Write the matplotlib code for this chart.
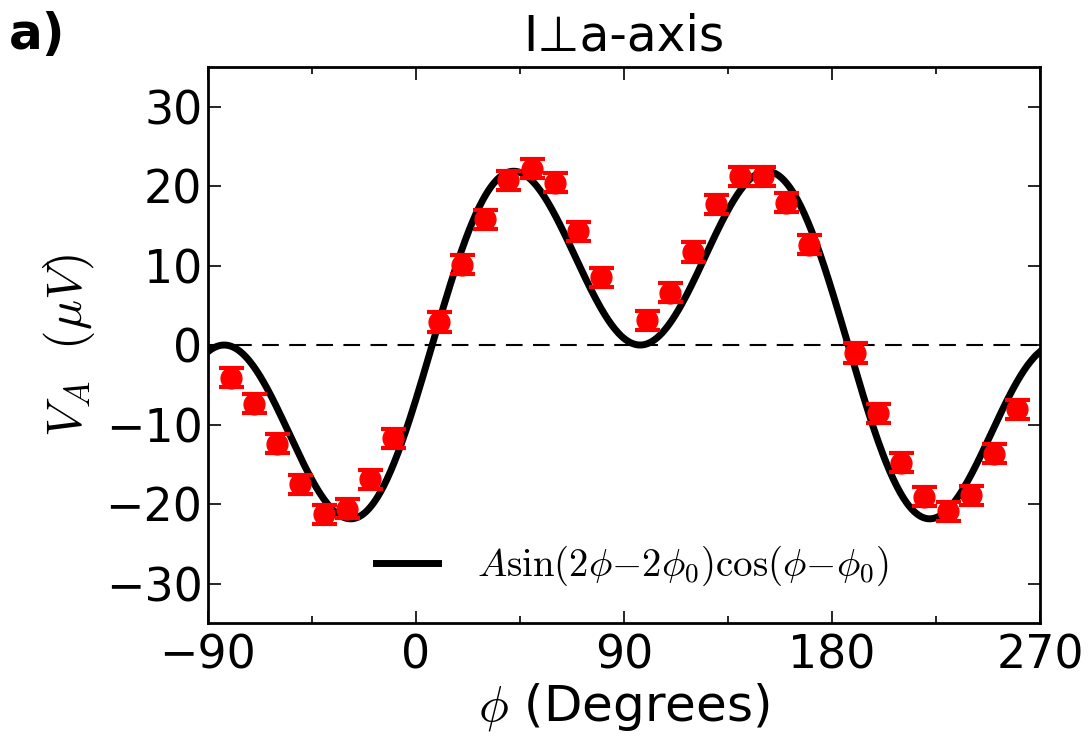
import numpy as np
import matplotlib
matplotlib.use("Agg")
import matplotlib.pyplot as plt
from matplotlib.ticker import MultipleLocator

# measured points (phi in degrees, V_A in microvolts)
phi = [-80, -70, -60, -50, -40, -30, -20, -10,
       10, 20, 30, 40, 50, 60, 70, 80,
       100, 110, 120, 130, 140, 150, 160, 170,
       190, 200, 210, 220, 230, 240, 250, 260]
va = [-4.1, -7.4, -12.4, -17.5, -21.3, -20.6, -16.9, -11.7,
      2.9, 10.1, 15.8, 20.7, 22.2, 20.4, 14.3, 8.5,
      3.1, 6.6, 11.7, 17.7, 21.2, 21.2, 17.9, 12.6,
      -1.0, -8.6, -14.8, -19.1, -20.9, -18.9, -13.7, -8.1]
va_err = [1.2] * len(phi)

# fit parameters of A sin(2phi - 2phi0) cos(phi - phi0)
A = 28.4
phi0 = 7.0

plt.rcParams['mathtext.fontset'] = 'cm'
plt.rcParams['font.family'] = 'DejaVu Sans'

fig = plt.figure(figsize=(10.89, 7.42), dpi=100)
ax = fig.add_axes([0.191, 0.160, 0.764, 0.750])

phi_fit = np.linspace(-90, 270, 721)
u = np.radians(phi_fit - phi0)
ax.plot(phi_fit, A * np.sin(2 * u) * np.cos(u), color='black', lw=5,
        label=r'$A\sin(2\phi{-}2\phi_0)\cos(\phi{-}\phi_0)$')
ax.axhline(0, color='black', ls='--', lw=1.5, dashes=(8, 5))
ax.errorbar(phi, va, yerr=va_err, fmt='o', color='red', mec='red',
            ms=15, capsize=9, capthick=3, elinewidth=3)

ax.set_xlim(-90, 270)
ax.set_ylim(-35, 35)
ax.xaxis.set_major_locator(MultipleLocator(90))
ax.xaxis.set_minor_locator(MultipleLocator(45))
ax.yaxis.set_major_locator(MultipleLocator(10))
ax.tick_params(which='both', direction='in', top=True, right=True,
               labelsize=33)
ax.tick_params(axis='x', pad=7)
ax.tick_params(axis='y', pad=4)
ax.tick_params(which='major', length=9, width=1.2)
ax.tick_params(which='minor', length=5, width=1.2)
for s in ax.spines.values():
    s.set_linewidth(2)

ax.set_xlabel(r'$\phi$ (Degrees)', fontsize=36, labelpad=2)
ax.set_ylabel(r'$V_A\ \ (\mu V)$', fontsize=36, labelpad=6)
ax.set_title('I\u22a5a-axis', fontsize=35, pad=12)
fig.text(0.008, 0.985, 'a)', fontsize=36, fontweight='bold', va='top')

ax.legend(loc='lower center', bbox_to_anchor=(0.51, 0.0), frameon=False,
          fontsize=28, handlelength=1.6, handletextpad=1.0)

fig.savefig('out.png', dpi=100)
